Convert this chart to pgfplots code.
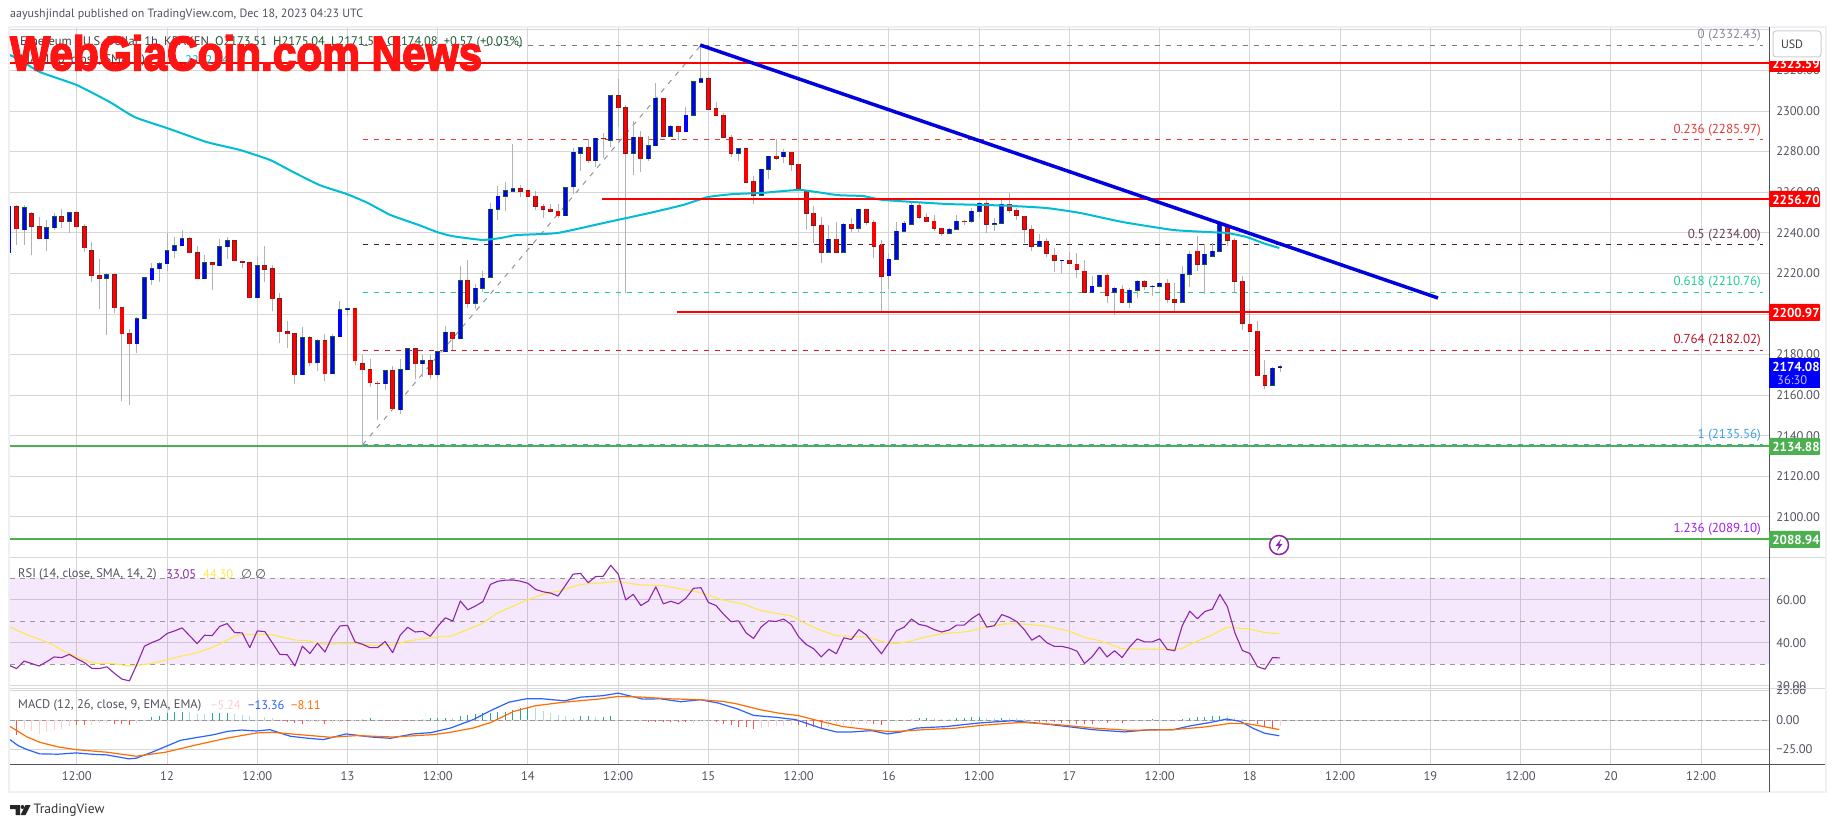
\documentclass[border=0pt]{standalone}
\usepackage{fontspec}
\usepackage{graphicx}
\usepackage{pgfplots}
\usepackage{pgfplotstable}
\pgfplotsset{compat=1.18}
\setmainfont{PT Sans}
\newfontfamily\wmfont[FakeBold=3.5]{Liberation Sans Bold}
\newfontfamily\symfont{DejaVu Sans}
\definecolor{gridc}{HTML}{D6D6D6}
\definecolor{tickc}{HTML}{50535E}
\definecolor{frame}{HTML}{EEF0F6}
\definecolor{cndred}{HTML}{FF0000}
\definecolor{cndblue}{HTML}{0000FF}
\definecolor{bordred}{HTML}{7A1F1F}
\definecolor{bordblue}{HTML}{1E5A35}
\definecolor{wick}{HTML}{B2B2B2}
\definecolor{lvlred}{HTML}{FF0000}
\definecolor{lvlgreen}{HTML}{4CAF50}
\definecolor{trend}{HTML}{0000E0}
\definecolor{ma}{HTML}{00BCD4}
\definecolor{rsi}{HTML}{8E24AA}
\definecolor{rsisma}{HTML}{FFE84A}
\definecolor{band}{HTML}{A01EF0}
\definecolor{macdb}{HTML}{2962FF}
\definecolor{macdo}{HTML}{FF6D00}
\definecolor{hred}{HTML}{FF5252}
\definecolor{hpink}{HTML}{FFCDD2}
\definecolor{hteal}{HTML}{26A69A}
\definecolor{hlteal}{HTML}{B2DFDB}
\definecolor{fibgray}{HTML}{787B86}
\definecolor{fibred}{HTML}{E53935}
\definecolor{fibmar}{HTML}{4A1A38}
\definecolor{fibgrn}{HTML}{1FCF93}
\definecolor{fibred2}{HTML}{E0142D}
\definecolor{fibblue}{HTML}{3F9FE0}
\definecolor{fibpur}{HTML}{A020E8}
\pgfplotstableread{
h open high low close
-20 2252.8 2253.5 2233.9 2242.0
-18 2249.4 2250.3 2229.3 2243.3
-17 2243.0 2247.9 2237.1 2237.1
-14 2247.9 2251.5 2242.5 2245.8
-12 2249.9 2249.9 2243.0 2243.0
-11 2243.0 2244.1 2230.5 2232.6
-10 2231.1 2235.7 2215.7 2218.8
-9 2218.8 2226.9 2202.4 2217.7
-7 2219.3 2219.3 2200.3 2203.1
-6 2203.1 2203.1 2157.1 2190.3
-5 2190.3 2192.4 2155.1 2185.3
3 2237.1 2238.0 2230.2 2230.2
4 2230.2 2233.3 2217.3 2217.3
6 2225.2 2225.2 2211.8 2224.2
9 2236.1 2236.1 2226.2 2226.2
10 2225.9 2226.2 2222.6 2225.6
11 2225.2 2225.2 2208.0 2208.0
13 2223.7 2233.3 2216.0 2222.1
14 2222.3 2224.2 2201.4 2207.5
15 2207.5 2210.4 2185.5 2191.2
16 2191.2 2196.6 2183.5 2190.3
17 2190.3 2190.3 2165.4 2170.1
19 2188.3 2189.4 2174.2 2175.9
21 2186.8 2190.3 2166.8 2170.5
25 2202.6 2202.6 2175.1 2176.9
26 2175.5 2179.6 2135.6 2172.5
27 2172.5 2177.6 2164.0 2166.1
28 2165.8 2167.1 2147.7 2165.6
30 2172.0 2174.6 2153.0 2153.3
33 2182.9 2182.9 2168.2 2175.5
35 2176.9 2179.6 2168.2 2170.1
38 2191.1 2191.1 2182.4 2187.7
40 2216.3 2226.8 2202.8 2205.3
47 2261.6 2263.7 2257.8 2260.6
48 2260.6 2261.1 2258.1 2258.1
49 2258.1 2260.6 2251.1 2253.2
50 2253.2 2254.2 2247.1 2251.7
51 2251.7 2254.2 2250.1 2250.7
52 2250.7 2254.2 2247.1 2248.3
56 2281.8 2286.2 2274.4 2275.4
58 2286.7 2289.2 2276.9 2286.4
60 2307.4 2315.9 2292.1 2301.5
61 2301.5 2303.0 2210.4 2279.3
63 2287.2 2290.3 2269.8 2276.4
66 2306.4 2306.4 2287.2 2287.5
68 2292.6 2292.6 2285.7 2289.7
72 2315.8 2316.7 2301.0 2301.0
73 2301.0 2304.6 2297.4 2298.0
74 2298.0 2299.0 2287.2 2287.2
75 2287.2 2288.2 2277.3 2279.3
77 2281.3 2281.8 2265.0 2265.0
78 2265.5 2268.0 2254.0 2258.6
81 2277.8 2286.2 2275.9 2276.7
83 2279.8 2279.8 2270.3 2273.9
84 2273.8 2273.8 2261.0 2261.0
85 2261.0 2261.0 2241.6 2249.6
86 2249.6 2253.1 2235.2 2243.7
87 2243.7 2247.8 2225.3 2230.4
89 2236.8 2245.2 2230.4 2230.4
91 2244.2 2247.2 2240.6 2242.2
93 2251.6 2251.9 2244.0 2245.2
94 2245.2 2246.2 2227.8 2233.4
95 2233.9 2236.5 2201.5 2218.5
100 2253.6 2254.6 2246.7 2247.7
101 2247.7 2249.6 2245.5 2245.5
102 2245.7 2248.6 2241.1 2242.2
103 2242.2 2242.2 2238.5 2239.8
106 2245.7 2246.3 2243.7 2245.5
109 2254.6 2256.2 2239.8 2244.2
112 2254.1 2259.5 2249.6 2251.1
113 2251.1 2252.1 2246.2 2248.6
114 2248.1 2248.1 2235.2 2241.7
115 2241.7 2243.7 2231.2 2233.4
117 2235.8 2237.3 2228.3 2229.9
118 2228.9 2232.5 2220.9 2226.4
120 2226.4 2230.4 2224.6 2225.0
121 2224.5 2229.9 2217.9 2222.0
122 2221.0 2226.6 2210.7 2210.7
125 2219.0 2220.0 2205.2 2209.2
127 2212.1 2214.1 2205.2 2205.7
130 2216.1 2216.6 2211.6 2213.6
133 2215.1 2217.1 2205.2 2207.2
134 2207.2 2215.1 2201.6 2205.7
137 2230.9 2238.5 2221.2 2224.5
141 2243.7 2244.2 2233.7 2236.3
142 2236.3 2237.3 2210.8 2216.1
143 2216.1 2218.7 2192.1 2195.4
144 2194.9 2202.3 2191.4 2191.4
145 2191.4 2196.4 2169.7 2169.7
146 2169.7 2177.3 2163.1 2164.8
}\falling
\pgfplotstableread{
h open high low close
-21 2230.1 2253.1 2230.1 2253.1
-19 2241.5 2253.5 2233.9 2252.3
-16 2237.1 2246.1 2231.0 2242.5
-15 2242.5 2249.9 2241.6 2247.9
-13 2245.8 2249.9 2239.8 2249.9
-8 2217.7 2220.0 2189.6 2219.3
-4 2185.3 2198.3 2180.6 2197.6
-3 2197.6 2217.8 2197.6 2217.8
-2 2216.9 2225.2 2214.1 2222.3
-1 2222.3 2225.5 2216.0 2224.7
0 2224.7 2240.0 2221.4 2231.1
1 2231.1 2237.7 2227.4 2233.6
2 2233.6 2241.6 2233.6 2237.1
5 2217.3 2229.2 2217.3 2225.2
7 2223.7 2237.1 2223.7 2233.1
8 2233.1 2237.7 2226.9 2236.1
12 2208.0 2228.3 2208.0 2223.7
18 2170.1 2193.4 2170.1 2188.3
20 2175.9 2187.8 2171.7 2186.8
22 2170.5 2190.3 2170.5 2188.8
23 2188.8 2206.2 2188.8 2202.1
24 2202.1 2203.1 2199.0 2202.6
29 2165.6 2172.0 2162.8 2172.0
31 2152.8 2177.6 2150.7 2172.5
32 2172.5 2182.9 2172.5 2182.9
34 2175.5 2179.6 2169.1 2176.9
36 2170.1 2181.4 2168.2 2181.4
37 2181.3 2194.3 2181.3 2191.1
39 2187.7 2223.5 2187.7 2216.3
41 2205.4 2215.0 2202.5 2212.8
42 2212.8 2221.4 2210.7 2217.7
43 2218.2 2254.7 2218.2 2251.7
44 2251.7 2263.2 2246.2 2258.1
45 2258.1 2265.2 2250.6 2260.6
46 2260.6 2283.9 2259.9 2261.6
53 2248.3 2262.1 2248.3 2262.1
54 2262.6 2281.8 2259.0 2279.8
55 2279.3 2282.3 2270.3 2281.8
57 2275.4 2286.7 2272.4 2286.7
59 2285.7 2307.4 2282.3 2307.4
62 2279.3 2295.1 2268.6 2287.2
64 2276.4 2287.9 2275.4 2282.8
65 2282.8 2313.8 2282.8 2306.4
67 2287.7 2293.1 2287.2 2292.6
69 2289.7 2302.1 2289.7 2298.0
70 2298.0 2314.3 2298.0 2314.3
71 2314.3 2332.4 2314.3 2315.8
76 2279.3 2281.8 2275.2 2281.3
79 2258.6 2271.4 2258.6 2271.4
80 2271.4 2277.8 2266.7 2277.8
82 2277.4 2281.3 2274.4 2279.8
88 2230.4 2243.7 2230.4 2236.8
90 2230.4 2244.7 2230.4 2244.2
92 2242.2 2251.9 2240.6 2251.6
96 2218.9 2229.9 2212.3 2226.9
97 2226.9 2245.4 2226.9 2240.8
98 2240.8 2245.9 2240.8 2244.7
99 2244.2 2255.6 2244.2 2253.6
104 2239.8 2242.2 2239.8 2241.7
105 2241.7 2248.6 2241.7 2245.7
107 2245.7 2252.1 2244.7 2250.6
108 2250.6 2254.6 2247.2 2254.6
110 2244.2 2247.2 2241.1 2244.7
111 2244.7 2256.5 2244.7 2254.1
116 2233.4 2239.4 2233.4 2235.8
119 2226.4 2226.6 2220.4 2226.6
123 2210.7 2218.7 2210.7 2213.6
124 2213.6 2219.0 2213.1 2219.0
126 2210.7 2213.1 2199.3 2212.6
128 2205.7 2212.6 2203.1 2211.6
129 2211.6 2216.6 2208.0 2216.1
131 2213.5 2214.1 2208.7 2213.6
132 2213.6 2215.6 2213.6 2215.1
135 2205.7 2223.6 2205.2 2219.5
136 2219.5 2230.9 2213.1 2229.4
138 2224.5 2234.5 2209.8 2229.4
139 2228.4 2234.8 2228.4 2230.9
140 2230.9 2245.2 2230.9 2244.2
147 2164.8 2173.7 2164.8 2173.2
148 2173.51 2175.04 2171.51 2174.08
}\rising
\pgfplotstableread{
h v
-20.9 2327.6
-19.5 2325.1
-16.9 2319.2
-12.0 2312.8
-7.6 2304.4
-4.3 2297.0
0.0 2291.6
5.3 2284.7
9.7 2280.8
13.7 2275.9
16.8 2269.9
20.3 2263.5
23.9 2259.1
26.7 2254.7
29.7 2248.8
33.5 2243.8
35.9 2240.4
37.9 2238.4
41.9 2236.5
44.3 2237.4
46.5 2238.9
51.9 2239.9
58.0 2244.8
64.2 2249.8
68.6 2253.7
71.9 2257.6
75.3 2259.1
78.9 2259.6
84.2 2261.1
89.1 2258.6
92.6 2258.1
95.2 2256.2
103.7 2254.2
109.0 2253.7
112.5 2253.2
117.0 2252.2
121.4 2249.8
127.1 2245.3
133.8 2241.4
138.3 2240.4
141.0 2239.9
143.6 2237.9
145.7 2235.0
147.9 2232.5
}\matable
\pgfplotstableread{
h v
-21 29.6
-20 28.1
-19 31.6
-18 30.4
-17 29.3
-16 31.3
-15 33.5
-14 33.2
-13 34.7
-12 32.7
-11 30.9
-10 28.2
-9 28.1
-8 28.9
-7 25.9
-6 23.2
-5 22.4
-4 30.1
-3 38.5
-2 40.2
-1 41.6
0 44.4
1 45.6
2 47.0
3 43.4
4 39.7
5 43.6
6 43.4
7 47.7
8 49.0
9 44.8
10 44.7
11 37.8
12 45.6
13 45.3
14 40.1
15 34.7
16 34.5
17 29.3
18 38.5
19 35.1
20 39.9
21 35.8
22 43.1
23 47.9
24 48.2
25 40.5
26 39.4
27 37.8
28 37.8
29 40.7
30 35.5
31 43.6
32 47.3
33 45.1
34 45.4
35 43.1
36 47.7
37 51.7
38 50.2
39 59.5
40 55.4
41 57.2
42 59.2
43 67.2
44 68.7
45 69.2
46 69.3
47 68.7
48 67.7
49 64.9
50 63.8
51 63.2
52 61.8
53 66.9
54 72.0
55 72.3
56 68.0
57 70.9
58 71.0
59 76.1
60 72.0
61 60.0
62 62.6
63 57.4
64 59.5
65 66.1
66 58.2
67 59.4
68 58.2
69 60.8
70 65.4
71 65.7
72 58.8
73 57.4
74 53.4
75 49.9
76 50.3
77 44.7
78 42.1
79 47.4
80 50.3
81 50.0
82 51.1
83 48.6
84 42.8
85 39.3
86 37.3
87 33.5
88 37.1
89 35.0
90 42.4
91 41.6
92 46.2
93 43.7
94 39.3
95 35.0
96 40.1
97 45.7
98 47.3
99 51.1
100 48.6
101 47.9
102 46.2
103 45.1
104 46.0
105 48.3
106 48.3
107 51.3
108 53.6
109 47.4
110 48.0
111 53.2
112 51.9
113 49.9
114 46.2
115 41.3
116 43.4
117 40.1
118 38.4
119 38.4
120 37.6
121 36.2
122 30.5
123 33.5
124 38.1
125 33.5
126 36.4
127 33.2
128 38.1
129 41.9
130 40.5
131 40.5
132 41.9
133 37.0
134 36.4
135 48.0
136 54.8
137 51.3
138 54.6
139 55.7
140 62.6
141 56.9
142 44.7
143 36.5
144 35.1
145 29.0
146 27.8
147 33.2
148 33.05
}\rsitable
\pgfplotstableread{
h v
-20.9 47.4
-18.9 44.2
-16.9 41.6
-15.1 39.1
-14.1 36.8
-12.0 33.6
-10.0 30.9
-9.0 30.4
-7.1 30.4
-5.1 29.3
-4.1 29.5
-2.0 30.5
-0.1 32.1
1.9 33.9
4.0 35.5
5.9 37.8
6.9 39.3
9.0 43.1
9.9 43.9
11.9 44.0
13.9 43.9
16.9 41.4
18.8 41.0
20.9 39.4
22.9 39.6
25.0 39.7
28.0 38.8
30.0 39.1
31.9 40.8
35.0 42.4
37.9 43.3
39.9 46.2
41.9 49.0
43.9 53.9
47.9 60.0
50.0 62.6
52.0 64.1
55.0 67.2
57.9 68.0
60.0 68.6
62.9 67.0
65.9 66.7
67.9 65.4
70.9 63.5
73.9 60.0
76.8 58.0
78.9 55.1
83.0 52.6
84.8 49.3
86.9 45.9
89.0 43.4
93.0 42.8
95.8 40.1
97.0 39.7
98.8 40.8
100.9 42.8
102.9 44.2
106.5 45.3
108.9 47.4
111.2 48.8
113.3 48.9
116.6 48.0
119.8 45.7
122.2 42.4
124.0 41.1
127.0 37.3
132.9 37.0
134.9 37.3
136.2 39.7
138.8 43.4
140.9 47.3
143.9 46.5
146.0 44.8
147.9 44.3
}\rsismatable
\pgfplotstableread{
h v
-20.9 -16.6
-19.8 -21.7
-18.6 -25.1
-16.9 -28.7
-14.5 -29.0
-12.1 -27.9
-10.0 -29.0
-8.0 -29.6
-5.1 -32.9
-4.1 -32.4
-2.0 -27.3
1.8 -17.2
3.9 -14.9
6.0 -12.7
8.1 -9.6
9.9 -8.5
11.9 -9.3
13.7 -8.2
16.4 -13.8
18.8 -15.5
20.8 -16.6
23.8 -11.8
27.1 -14.4
29.7 -15.5
32.7 -11.8
35.1 -10.7
37.7 -6.8
40.7 0.3
43.1 8.2
45.5 15.2
47.8 18.0
49.9 18.0
52.9 16.3
55.0 19.4
57.9 20.6
60.0 22.8
63.3 17.7
65.6 18.0
68.3 15.5
70.9 17.2
73.3 14.4
75.9 9.3
78.0 3.9
81.0 2.3
83.6 0.3
86.9 -6.8
89.0 -10.1
91.1 -10.1
93.7 -9.0
95.8 -11.8
97.6 -10.1
99.7 -6.8
103.5 -5.6
108.0 -2.5
112.4 -0.6
116.0 -2.8
119.8 -5.6
123.1 -8.2
127.3 -10.1
130.8 -8.2
133.8 -8.2
136.2 -4.8
138.8 -2.0
140.9 0.8
142.7 -1.1
144.5 -7.3
146.0 -11.3
147.9 -13.36
}\macdtable
\pgfplotstableread{
h v
-20.9 -5.4
-18.6 -14.4
-16.9 -18.9
-14.5 -22.8
-12.1 -25.1
-8.0 -27.3
-4.1 -30.7
-0.2 -27.3
3.9 -21.1
8.1 -15.2
11.9 -11.0
14.0 -10.4
17.6 -12.4
21.7 -14.6
25.3 -13.2
30.0 -14.4
35.4 -12.4
37.7 -10.4
40.7 -6.8
43.1 -2.0
46.1 7.3
49.0 12.1
52.9 15.2
57.3 17.7
60.0 20.0
63.3 19.4
66.8 18.0
70.9 17.2
73.9 15.8
75.9 13.5
78.9 8.7
81.3 5.9
84.0 3.7
86.9 -1.1
89.9 -5.6
93.7 -8.5
96.4 -9.9
100.6 -8.2
104.7 -7.0
108.3 -4.5
113.6 -2.0
118.4 -3.9
123.1 -6.8
127.9 -8.7
133.8 -8.2
138.0 -5.9
141.5 -2.8
143.6 -3.1
145.7 -5.4
147.9 -8.11
}\signaltable
\pgfplotstableread{
h v
-20 -13
-12 -4
-11 -4
-7 -3
-6 -3.6
-5 -4
15 -1
16 -1.5
17 -2.5
18 -3.1
21 -3
24 -1.1
29 -1
30 -1.2
32 -1.2
64 -1.4
65 -1.4
66 -1.6
67 -1.8
68 -2
69 -2
73 -2
74 -3.5
75 -4.5
76 -5.6
77 -6.2
78 -8
84 -4.5
85 -5.6
86 -6
87 -7
94 -3.4
95 -4
116 -1.5
117 -2
118 -2.1
119 -2.2
120 -2.5
121 -3
122 -3.4
123 -3.7
125 -2.8
127 -2.8
144 -1
145 -3
146 -4.8
147 -7
}\histred
\pgfplotstableread{
h v
-19 -8
-18 -9.6
-17 -11.8
-16 -10.4
-15 -8.7
-14 -7.6
-13 -5.4
-10 -4
-9 -2.8
-8 -2.8
-4 -2.5
-3 -1
19 -1.5
20 -2
22 -2.2
23 -1.7
25 -0.8
31 -0.8
61 -0.3
62 -0.5
63 -1
70 -2.4
71 -1
79 -6.5
80 -6.2
81 -5.4
82 -4.8
83 -4.2
88 -6
89 -5
90 -4.5
91 -4
92 -3.5
93 -3.1
96 -1.5
97 -1.4
98 -1
115 -0.5
124 -2.8
126 -2.5
128 -1.5
129 -1
148 -5.24
}\histpink
\pgfplotstableread{
h v
-2 2.3
-1 3.1
0 5.9
1 6.8
2 6.8
6 5.6
7 5.6
8 5.6
27 1.4
35 1.4
36 1.7
37 1.9
39 3.5
40 3.9
41 5.1
42 6.2
43 6.2
44 6.8
45 6.8
46 8.5
47 10.5
48 10.7
55 3
56 3
58 2.8
59 3
100 2
101 2.1
105 2
106 2
107 2.2
108 2.8
111 2
131 0.6
135 0.8
136 2
137 2.8
138 2.8
139 3
140 3.7
}\histteal
\pgfplotstableread{
h v
3 6.8
4 5.4
5 5.1
9 5.1
10 4.5
11 3.1
12 1.1
13 2.5
14 1.7
26 0.5
28 0.3
33 0.3
34 1
38 1.5
49 10
50 8
51 6
52 4
53 3
54 2
57 2.8
60 1
72 -0.8
99 1
102 1.5
103 1
104 0.8
109 1.5
110 1.5
112 2
113 1.6
114 1
132 0.3
141 3.7
142 2
143 0.5
}\histlteal
\pgfplotsset{
  pane/.style={scale only axis, width=1759pt, xmin=-20.88, xmax=213.03,
    clip=true,
    axis line style={draw=none}, major tick length=0pt,
    xtick={-12,0,12,24,36,48,60,72,84,96,108,120,132,144,156,168,180,192,204},
    grid=major, grid style={draw=gridc, line width=1pt},
    yticklabel pos=right,
    yticklabel style={anchor=west, inner xsep=0pt, xshift=7pt, font=\fontsize{12.5}{13}\selectfont, text=tickc},
  },
  wicks/.style={forget plot, draw=none, error bars/.cd, y dir=plus, y explicit, error mark=none,
    error bar style={draw=wick, line width=1pt}},
  bodies/.style args={#1/#2}{forget plot, draw=none, error bars/.cd, y dir=plus, y explicit, error mark=none,
    error bar style={draw=#1, line width=#2}},
}
\begin{document}
\begin{tikzpicture}
\useasboundingbox (0,0) rectangle (1835pt,827pt);
\fill[white] (0,0) rectangle (1835pt,827pt);
% ---------- main price pane
\begin{axis}[pane, name=main, at={(10pt,269pt)}, anchor=south west, height=531pt,
  ymin=2079.8, ymax=2341.4,
  xticklabels={},
  ytick={2100,2120,2140,2160,2180,2200,2220,2240,2260,2280,2300,2320,2340},
  yticklabels={2100.00,2120.00,2140.00,2160.00,2180.00,2200.00,2220.00,2240.00,2260.00,2280.00,2300.00,2320.00,{}},
]
% fibonacci retracement
\addplot[fibgray, line width=1pt, dash pattern=on 5pt off 6pt] coordinates {(26,2332.43) (212.2,2332.43)};
\addplot[fibred, line width=1pt, dash pattern=on 5pt off 6pt] coordinates {(26,2285.97) (212.2,2285.97)};
\addplot[fibmar, line width=1pt, dash pattern=on 5pt off 6pt] coordinates {(26,2234.00) (212.2,2234.00)};
\addplot[fibgrn, line width=1pt, dash pattern=on 5pt off 6pt] coordinates {(26,2210.76) (212.2,2210.76)};
\addplot[fibred2, line width=1pt, dash pattern=on 5pt off 6pt] coordinates {(26,2182.02) (212.2,2182.02)};
\addplot[fibblue, line width=1pt, dash pattern=on 5pt off 6pt] coordinates {(26,2135.56) (212.2,2135.56)};
\addplot[fibpur, line width=1pt, dash pattern=on 5pt off 6pt] coordinates {(26,2089.10) (212.2,2089.10)};
\addplot[fibgray!80, line width=1pt, dash pattern=on 5pt off 6pt] coordinates {(26,2135.56) (71,2332.43)};
% wicks
\addplot[wicks] table[x=h, y=low, y error plus expr=\thisrow{high}-\thisrow{low}] {\falling};
\addplot[wicks] table[x=h, y=low, y error plus expr=\thisrow{high}-\thisrow{low}] {\rising};
% candle bodies
\addplot[bodies=bordred/4.8pt] table[x=h, y expr=\thisrow{close}-0.25, y error plus expr=\thisrow{open}-\thisrow{close}+0.5] {\falling};
\addplot[bodies=cndred/3.2pt] table[x=h, y=close, y error plus expr=\thisrow{open}-\thisrow{close}] {\falling};
\addplot[bodies=bordblue/4.8pt] table[x=h, y expr=\thisrow{open}-0.25, y error plus expr=\thisrow{close}-\thisrow{open}+0.5] {\rising};
\addplot[bodies=cndblue/3.2pt] table[x=h, y=open, y error plus expr=\thisrow{close}-\thisrow{open}] {\rising};
% moving average
\addplot[ma, line width=2pt, line join=round, smooth, tension=0.3] table[x=h, y=v] {\matable};
% horizontal levels and trend line
\addplot[lvlred, line width=2pt] coordinates {(-20.88,2323.59) (213.03,2323.59)};
\addplot[lvlred, line width=2pt] coordinates {(57.9,2256.70) (213.03,2256.70)};
\addplot[lvlred, line width=2pt] coordinates {(67.8,2200.97) (213.03,2200.97)};
\addplot[lvlgreen, line width=2pt] coordinates {(-20.88,2134.88) (213.03,2134.88)};
\addplot[lvlgreen, line width=2pt] coordinates {(-20.88,2088.94) (213.03,2088.94)};
\addplot[trend, line width=3.5pt] coordinates {(70.9,2332.5) (169.0,2207.9)};
\end{axis}
% ---------- RSI pane
\begin{axis}[pane, name=rsi, at={(10pt,138pt)}, anchor=south west, height=131pt,
  ymin=18.6, ymax=79.5, xticklabels={},
  ytick={20,40,60}, yticklabels={20.00,40.00,60.00}]
\addplot[fill=band, fill opacity=0.1, draw=none] coordinates {(-20.88,30) (213.03,30) (213.03,70) (-20.88,70)} --cycle;
\addplot[gray!80, line width=1pt, dash pattern=on 5pt off 5pt] coordinates {(-20.88,70) (213.03,70)};
\addplot[gray!80, line width=1pt, dash pattern=on 5pt off 5pt] coordinates {(-20.88,50) (213.03,50)};
\addplot[gray!80, line width=1pt, dash pattern=on 5pt off 5pt] coordinates {(-20.88,30) (213.03,30)};
\addplot[rsisma, line width=1.1pt, line join=round] table[x=h, y=v] {\rsismatable};
\addplot[rsi, line width=1.1pt, line join=round] table[x=h, y=v] {\rsitable};
\end{axis}
% ---------- MACD pane
\begin{axis}[pane, name=macd, at={(10pt,63pt)}, anchor=south west, height=75pt,
  ymin=-37.3, ymax=26.3,
  ytick={-25,0,25}, yticklabels={−25.00,0.00,25.00},
  xticklabels={12:00,12,12:00,13,12:00,14,12:00,15,12:00,16,12:00,17,12:00,18,12:00,19,12:00,20,12:00},
  xticklabel style={font=\fontsize{12.5}{13}\selectfont, text=tickc, yshift=-4pt},
]
\addplot[gray!80, line width=1pt, dash pattern=on 5pt off 3pt] coordinates {(-20.88,0) (213.03,0)};
\addplot[ycomb, hpink, line width=1pt] table[x=h, y=v] {\histpink};
\addplot[ycomb, hred, line width=1pt] table[x=h, y=v] {\histred};
\addplot[ycomb, hlteal, line width=1pt] table[x=h, y=v] {\histlteal};
\addplot[ycomb, hteal, line width=1pt] table[x=h, y=v] {\histteal};
\addplot[macdb, line width=1.2pt, line join=round] table[x=h, y=v] {\macdtable};
\addplot[macdo, line width=1.2pt, line join=round] table[x=h, y=v] {\signaltable};
\end{axis}
% ---------- overlays in reference pixels
\begin{scope}[x=1pt, y=-1pt, yshift=827pt, every node/.style={inner sep=0pt}]
\draw[frame, line width=2.5pt] (9,27) rectangle (1826,792);
\draw[frame!80!gray, line width=1pt] (10,558) -- (1825,558);
\draw[frame!80!gray, line width=1pt] (10,689) -- (1825,689);
\draw[tickc, line width=1pt] (10,764) -- (1825,764);
\draw[tickc, line width=1pt] (1769,27) -- (1769,792);
% header
\node[anchor=west, text=tickc] at (10,15) {\fontsize{12}{14}\selectfont aayushjindal published on TradingView.com, Dec 18, 2023 04:23 UTC};
\node[anchor=west, text=black!75] at (20,42) {\fontsize{12.5}{14}\selectfont Ethereum / U.S. Dollar, 1h, KRAKEN\hspace{6pt}\textcolor{bordblue}{O2173.51\hspace{6pt}H2175.04\hspace{6pt}L2171.51\hspace{6pt}C2174.08\hspace{6pt}+0.57 (+0.03\%)}};
\node[anchor=west, text=black!75] at (20,60) {\fontsize{12.5}{14}\selectfont MA (100, close, SMA, 0)};
\node[anchor=west, text=ma] at (185,60) {\fontsize{12.5}{14}\selectfont 2232.34};
% watermark
\definecolor{wmred}{HTML}{FF1414}
\node[anchor=north west, text=wmred] at (10,35) {\resizebox{472pt}{35pt}{\wmfont WebGiaCoin.com News}};
% fib labels
\begin{scope}[every node/.append style={anchor=east, font=\fontsize{13}{14}\selectfont}]
\node[text=fibgray!90] at (1761,35) {0 (2332.43)};
\node[text=fibred] at (1761,130) {0.236 (2285.97)};
\node[text=fibmar!85] at (1761,235) {0.5 (2234.00)};
\node[text=fibgrn] at (1761,282) {0.618 (2210.76)};
\node[text=fibred2!85!black] at (1761,340) {0.764 (2182.02)};
\node[text=fibblue] at (1761,435) {1 (2135.56)};
\node[text=fibpur] at (1761,529) {1.236 (2089.10)};
\end{scope}
% USD button
\draw[frame!70!gray, fill=white, rounded corners=3pt, line width=1pt] (1773,31) rectangle (1821,57);
\node[text=black!75] at (1792,44) {\fontsize{12}{14}\selectfont USD};
% price tags
\begin{scope}[every node/.append style={text=white, font=\fontsize{13}{14}\selectfont\bfseries}]
\fill[lvlred] (1769,61) rectangle (1820,72);
\begin{scope}
\clip (1769,61) rectangle (1820,72);
\node at (1796,64) {2323.59};
\end{scope}
\fill[lvlred, rounded corners=1pt] (1769,191) rectangle (1820,207);
\node at (1796,199.5) {2256.70};
\fill[lvlred, rounded corners=1pt] (1769,304) rectangle (1820,321);
\node at (1796,313) {2200.97};
\fill[cndblue] (1769,358) rectangle (1820,388);
\node at (1796,367) {2174.08};
\fill[lvlgreen, rounded corners=1pt] (1769,438) rectangle (1820,455);
\node at (1796,447) {2134.88};
\fill[lvlgreen, rounded corners=1pt] (1769,531) rectangle (1820,548);
\node at (1796,540) {2088.94};
\end{scope}
\node[anchor=west, text=white!75!blue] at (1777,380) {\fontsize{12.5}{14}\selectfont 36:30};
% lightning badge
\draw[rsi, line width=1.5pt, fill=white] (1279,545) circle (9.5);
\fill[rsi] (1281,539) -- (1275.5,546) -- (1278.8,546) -- (1277,551) -- (1282.5,544) -- (1279.3,544) -- cycle;
% indicator legends
\node[anchor=west, text=tickc] at (18,574) {\fontsize{12.5}{14}\selectfont RSI (14, close, SMA, 14, 2)};
\node[anchor=west, text=rsi] at (166,574) {\fontsize{12.5}{14}\selectfont 33.05};
\node[anchor=west, text=rsisma] at (203,574) {\fontsize{12.5}{14}\selectfont 44.30};
\node[anchor=west, text=tickc] at (241,574) {\fontsize{12.5}{14}\selectfont\symfont ∅};
\node[anchor=west, text=tickc] at (255,574) {\fontsize{12.5}{14}\selectfont\symfont ∅};
\node[anchor=west, text=tickc] at (18,705) {\fontsize{12.5}{14}\selectfont MACD (12, 26, close, 9, EMA, EMA)};
\node[anchor=west, text=hpink] at (211,705) {\fontsize{12.5}{14}\selectfont −5.24};
\node[anchor=west, text=macdb] at (248,705) {\fontsize{12.5}{14}\selectfont −13.36};
\node[anchor=west, text=macdo] at (291,705) {\fontsize{12.5}{14}\selectfont −8.11};
% TradingView logo
\fill[black!85] (10,805) -- (20,805) -- (20,815) -- (15.5,815) -- (15.5,809) -- (10,809) -- cycle;
\fill[black!85] (22.5,807) circle (2);
\fill[black!85] (25.5,805) -- (30.5,805) -- (25.5,815) -- (20.5,815) -- cycle;
\node[anchor=west, text=black!80] at (33.5,810) {\fontsize{13.5}{15}\selectfont TradingView};
\end{scope}
\end{tikzpicture}
\end{document}
